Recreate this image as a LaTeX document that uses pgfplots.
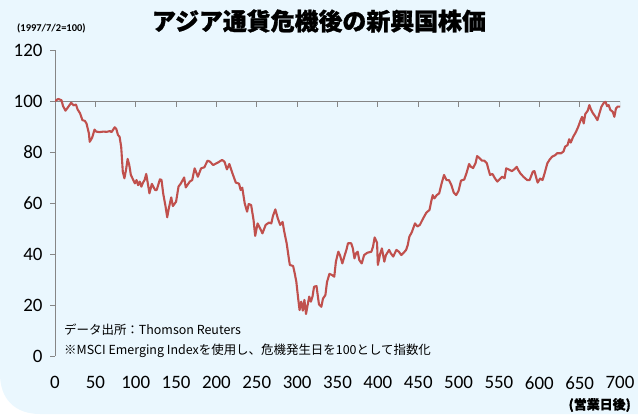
\documentclass[border=0pt]{standalone}
\usepackage{fontspec}
\setmainfont{Carlito}
\newfontfamily\jp{Noto Sans CJK JP}
\newfontfamily\jpt[BoldFeatures={FakeBold=1.2}]{Noto Sans CJK JP}
\usepackage{pgfplots}
\pgfplotsset{compat=1.18}
\definecolor{bg}{HTML}{EAF7FE}
\definecolor{ln}{HTML}{C0504D}
\definecolor{ax}{HTML}{868686}

\begin{document}
\begin{tikzpicture}[x=1bp,y=1bp]
\useasboundingbox (0,0) rectangle (638,414);
\fill[bg] (0,414) -- (638,414) -- (638,0) -- (40,0) .. controls (15,0) and (0,15) .. (0,40) -- cycle;
\begin{axis}[
  at={(55bp,58bp)}, anchor=south west,
  scale only axis, width=565bp, height=306bp,
  xmin=0, xmax=700, ymin=0, ymax=120,
  axis x line*=bottom, x axis line style={draw=none},
  axis y line*=left, y axis line style={ax, line width=0.8bp},
  xtick={0,50,...,700}, ytick={0,20,...,120},
  xtick style={draw=none},
  ytick style={ax, line width=0.8bp},
  tick align=outside, major tick length=5bp,
  ticklabel style={font=\fontsize{19}{19}\selectfont},
  xticklabel style={yshift=-12bp},
  yticklabel style={xshift=-4bp},
  /pgf/number format/assume math mode=true,
]
\draw[ax, line width=0.8bp] (axis cs:0,100) -- (axis cs:700,100);
\pgfplotsinvokeforeach{50,100,...,700}{\draw[ax, line width=0.8bp] (axis cs:#1,100) -- ++(0,-6bp);}
\addplot[ln, line width=2.1bp, no markers, line join=round] table {
0 100
4 100.8
8 100.3
10 98
13 96.2
16 97.5
20 99.3
23 98.3
26 98.6
28 96.7
31 95.2
34 92.5
37 92.2
39 91.2
42 87.3
43 84
46 85.6
49 88.8
51 88
55 87.8
60 88
64 87.9
68 88.2
70 87.8
74 89.7
76 89
78 86.7
80 86
82 82
84 72.3
86 69.7
88 73
90 77.3
92 74.9
94 71
97 69
99 67.7
101 69
103 67
105 68.4
107 66.4
109 68
111 69
113 71.4
115 67.7
117 63.8
120 67.5
124 65.1
126 65.1
130 69.3
132 69
134 63.8
137 58.6
139 54.4
141 57.9
144 62.2
146 58.8
150 60.5
153 66.4
156 67.7
160 70
162 66.1
167 68.4
170 69
173 73.6
177 70.3
181 73.6
185 74
189 76.6
192 76.2
196 74.9
202 75.9
207 76.9
210 76.2
213 73.2
216 75.3
220 71.5
224 68
228 67.6
230 65.1
232 66
235 59.9
238 56.6
240 59.6
243 59.2
246 53.3
248 47.1
251 52
254 50.1
257 48.1
261 51.4
265 52.3
268 52
270 54.9
273 57.5
276 54
279 51.4
282 52.6
284 48.8
287 44.2
290 37.6
291 35.7
295 35.3
297 32.4
299 29.1
301 23.3
303 18
305 21.3
307 17.8
309 22
311 16.5
313 20
315 23.3
317 21.3
319 23.3
321 27.2
324 27.4
327 20.3
330 19.3
332 22.5
335 23.9
337 29
340 32.2
343 31.8
346 31.1
348 37
351 40.9
353 39.6
356 36.3
359 39.6
361 41.6
363 44.2
367 44.2
369 42.2
371 38.3
373 40.3
375 40.9
377 37.6
380 36.3
383 39.6
387 40.5
392 40.9
394 42.9
396 46.5
399 44.4
400 35.7
403 40.3
405 42.2
408 37
410 39.6
414 41.6
416 40.3
419 39
423 41.6
426 40.9
429 39.6
432 40.5
435 41.6
437 43.5
439 46.8
442 48.5
446 52
449 50.8
452 51.4
455 53.3
460 56.2
464 57.3
466 60.5
468 63.1
470 61.8
473 63.1
476 63.8
479 67.7
482 71
485 69
488 69
491 67.1
494 64.1
497 63.1
500 64.8
503 68.8
507 69.2
510 71.9
513 75.3
515 74.3
518 73.7
521 75.6
523 78.4
526 77.6
529 76.6
532 76.6
535 75.6
537 73.2
539 71
542 71.4
545 69.7
548 68.4
550 69
554 70.3
557 69.7
559 73.6
563 73
566 72.5
569 73.2
572 74.2
574 72.9
577 71.4
581 70.1
585 69
588 69
592 72.3
594 72.5
597 69
598 68
601 69.6
604 69
606 71
610 75.6
613 77.1
616 78.2
620 78.8
622 79.5
627 79.5
630 80.2
632 82.1
635 82.7
637 85
639 83.7
642 86
645 87.6
648 89.7
651 92.3
653 93.8
655 91.2
657 94.9
660 96.2
662 98.4
664 96.7
666 95.4
669 94.1
672 92.5
674 94.6
677 97.8
680 99.3
682 99.7
684 98
686 98.4
688 96.5
691 95.8
693 93.8
695 97.1
697 97.8
700 97.8
};
\end{axis}
\node[font=\jpt\bfseries\fontsize{24}{24}\selectfont] at (319,393) {アジア通貨危機後の新興国株価};
\node[anchor=west, inner sep=0pt, font=\bfseries\fontsize{10.5}{10.5}\selectfont] at (17,386) {(1997/7/2=100)};
\node[anchor=east, inner sep=0pt, font=\jpt\bfseries\fontsize{13}{13}\selectfont] at (631,9) {(営業日後)};
\node[anchor=west, inner sep=0pt, font=\jp\fontsize{12.5}{12.5}\selectfont] at (64,84) {データ出所：Thomson Reuters};
\node[anchor=west, inner sep=0pt, font=\jp\fontsize{12.5}{12.5}\selectfont] at (64,63) {※MSCI Emerging Indexを使用し、危機発生日を100として指数化};
\end{tikzpicture}
\end{document}
